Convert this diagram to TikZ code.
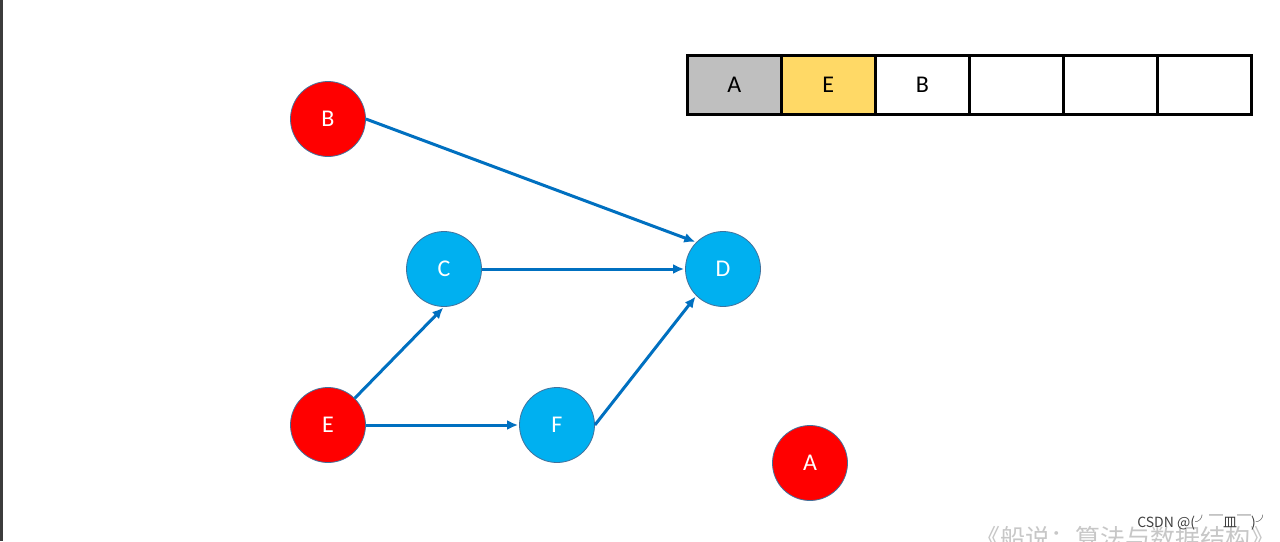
\documentclass[tikz,border=0pt]{standalone}
\usepackage{fontspec}
\setmainfont{Carlito}
\newfontfamily\cjk{Noto Sans CJK SC}
\usetikzlibrary{arrows.meta}
\definecolor{nodered}{HTML}{FF0000}
\definecolor{nodecyan}{HTML}{00B0F0}
\definecolor{nodeline}{HTML}{41719C}
\definecolor{edgeblue}{HTML}{0070C0}
\definecolor{cellgray}{HTML}{BFBFBF}
\definecolor{cellyellow}{HTML}{FFD966}
\definecolor{leftbar}{HTML}{3C3C3C}
\tikzset{
  vert/.style={circle, draw=nodeline, line width=0.8pt, minimum size=75pt, inner sep=0pt, text=white, font=\fontsize{24}{24}\selectfont},
  redv/.style={vert, fill=nodered},
  cyanv/.style={vert, fill=nodecyan},
  edge/.style={draw=edgeblue, line width=3pt, -{Latex[length=11pt,width=10pt]}, shorten >=1pt},
  cell/.style={draw=black, line width=2.6pt, minimum width=94pt, minimum height=59pt, inner sep=0pt, font=\fontsize{24}{24}\selectfont, anchor=north west}
}
\begin{document}
\begin{tikzpicture}[x=1pt,y=-1pt]
\useasboundingbox (0,0) rectangle (1280,541);
\fill[white] (0,0) rectangle (1280,541);
\fill[leftbar] (0,0) rectangle (2.5,541);
% vertices
\node[redv] (B) at (328,119) {B};
\node[cyanv] (C) at (444,269) {C};
\node[cyanv] (D) at (723,269) {D};
\node[redv] (E) at (328,425) {E};
\node[cyanv] (F) at (557,425) {F};
\node[redv] (A) at (810,463) {A};
% edges
\draw[edge] (B.east) -- (D.north west);
\draw[edge] (C.east) -- (D.west);
\draw[edge] (E.north east) -- (C.south);
\draw[edge] (E.east) -- (F.west);
\draw[edge] (F.east) -- (D.south west);
% array
\node[cell, fill=cellgray] (c1) at (686,54) {A};
\node[cell, fill=cellyellow] (c2) at (780,54) {E};
\node[cell, fill=white] (c3) at (874,54) {B};
\node[cell, fill=white] (c4) at (968,54) {};
\node[cell, fill=white] (c5) at (1062,54) {};
\node[cell, fill=white] (c6) at (1156,54) {};
% watermark
\node[anchor=west, text=black!22, font=\cjk\fontsize{25}{25}\selectfont, inner sep=0pt] (wm) at (975,538) {《船说：算法与数据结构》};
\node[anchor=east, text=black!75, font=\cjk\fontsize{14}{14}\selectfont, inner sep=0pt] (csdn) at (1270,523) {CSDN @(╯￣皿￣)╯};
\end{tikzpicture}
\end{document}
